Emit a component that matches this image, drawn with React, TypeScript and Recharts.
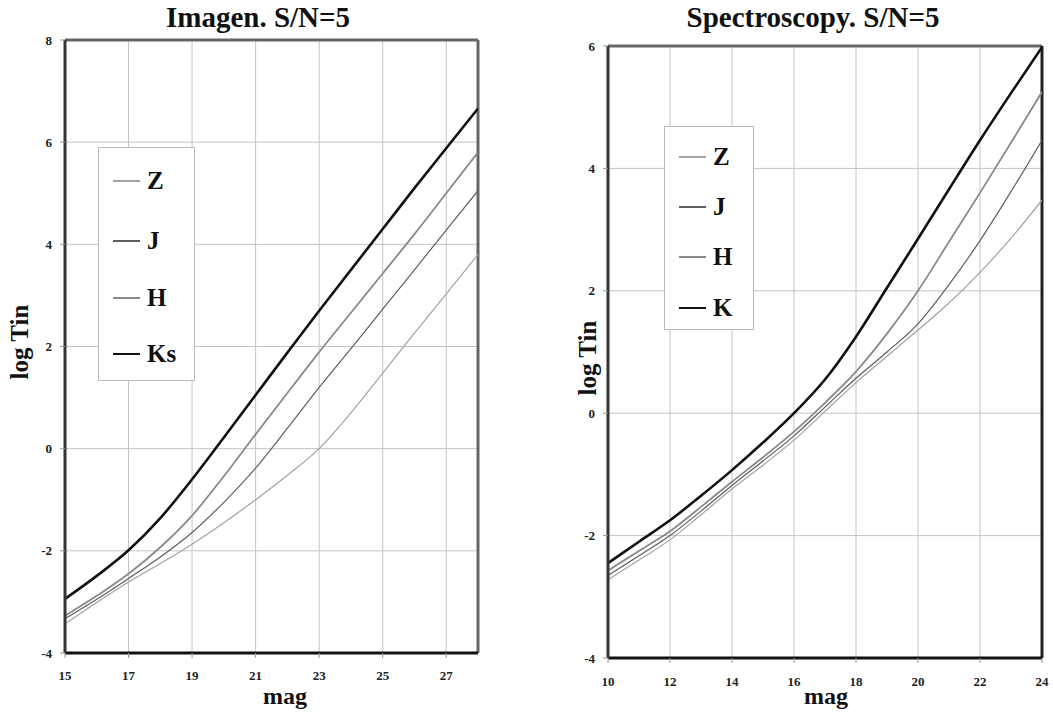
import { LineChart, Line, XAxis, YAxis, CartesianGrid, ReferenceLine } from "recharts";

// Imagen, S/N=5
const magImg = [15, 16, 17, 18, 19, 20, 21, 22, 23, 24, 25, 26, 27, 28];
const zImg = [-3.43, -3.01, -2.61, -2.25, -1.87, -1.45, -1.0, -0.52, 0.0, 0.7, 1.48, 2.26, 3.03, 3.8];
const jImg = [-3.33, -2.95, -2.54, -2.12, -1.64, -1.05, -0.38, 0.4, 1.2, 1.96, 2.73, 3.5, 4.28, 5.05];
const hImg = [-3.27, -2.88, -2.45, -1.93, -1.31, -0.54, 0.28, 1.09, 1.89, 2.66, 3.43, 4.2, 5.0, 5.8];
const ksImg = [-2.94, -2.49, -1.99, -1.36, -0.6, 0.22, 1.05, 1.88, 2.7, 3.5, 4.3, 5.1, 5.88, 6.66];
const ticksXImg = [15, 17, 19, 21, 23, 25, 27];
const ticksYImg = [-4, -2, 0, 2, 4, 6, 8];

// Spectroscopy, S/N=5
const magSpec = [10, 11, 12, 13, 14, 15, 16, 17, 18, 19, 20, 21, 22, 23, 24];
const zSpec = [-2.72, -2.4, -2.07, -1.66, -1.24, -0.85, -0.44, 0.03, 0.5, 0.93, 1.36, 1.8, 2.3, 2.86, 3.48];
const jSpec = [-2.65, -2.33, -2.0, -1.6, -1.18, -0.78, -0.37, 0.1, 0.57, 1.0, 1.46, 2.1, 2.82, 3.62, 4.46];
const hSpec = [-2.57, -2.25, -1.93, -1.53, -1.12, -0.72, -0.3, 0.17, 0.68, 1.3, 2.0, 2.8, 3.6, 4.42, 5.25];
const kSpec = [-2.45, -2.1, -1.75, -1.35, -0.93, -0.48, 0.0, 0.55, 1.25, 2.05, 2.85, 3.66, 4.46, 5.23, 5.98];
const ticksXSpec = [10, 12, 14, 16, 18, 20, 22, 24];
const ticksYSpec = [-4, -2, 0, 2, 4, 6];

const datosImg = magImg.map((m, i) => ({ mag: m, z: zImg[i], j: jImg[i], h: hImg[i], k: ksImg[i] }));
const datosSpec = magSpec.map((m, i) => ({ mag: m, z: zSpec[i], j: jSpec[i], h: hSpec[i], k: kSpec[i] }));

type Serie = { key: string; nombre: string; color: string; ancho: number };
const estilos = {
  z: { color: "#a2a2a2", ancho: 1.2 },
  j: { color: "#5e5e5e", ancho: 1.2 },
  h: { color: "#8a8a8a", ancho: 1.8 },
  k: { color: "#111111", ancho: 2.6 },
};
const seriesImg: Serie[] = [
  { key: "z", nombre: "Z", ...estilos.z },
  { key: "j", nombre: "J", ...estilos.j },
  { key: "h", nombre: "H", ...estilos.h },
  { key: "k", nombre: "Ks", ...estilos.k },
];
const seriesSpec: Serie[] = [
  { key: "z", nombre: "Z", ...estilos.z },
  { key: "j", nombre: "J", ...estilos.j },
  { key: "h", nombre: "H", ...estilos.h },
  { key: "k", nombre: "K", ...estilos.k },
];

const serif = "'Liberation Serif', 'DejaVu Serif', serif";
const tickStyle = { fontFamily: serif, fontWeight: 700, fontSize: 13, fill: "#222" };

function Leyenda({ x, y, w, h, filas, series }: { x: number; y: number; w: number; h: number; filas: number[]; series: Serie[] }) {
  return (
    <div style={{ position: "absolute", left: x, top: y, width: w, height: h, border: "1px solid #bbb", background: "#fff", boxSizing: "border-box" }}>
      {series.map((s, i) => (
        <div key={s.key} style={{ position: "absolute", left: 14, top: filas[i] - 14, height: 28, display: "flex", alignItems: "center" }}>
          <div style={{ width: 27, height: s.ancho, background: s.color }} />
          <span style={{ marginLeft: 7, fontFamily: serif, fontWeight: 700, fontSize: 25, color: "#111", lineHeight: "28px" }}>{s.nombre}</span>
        </div>
      ))}
    </div>
  );
}

function Panel(props: {
  datos: any[]; series: Serie[]; xDom: [number, number]; yDom: [number, number];
  xTicks: number[]; yTicks: number[]; left: number; width: number;
  margin: { top: number; right: number; bottom: number; left: number };
  bordeDerecho: string; tickMarginX: number;
}) {
  const { datos, series, xDom, yDom, xTicks, yTicks, left, width, margin } = props;
  return (
    <div style={{ position: "absolute", left, top: 0 }}>
      <LineChart width={width} height={713} data={datos} margin={margin}>
        <CartesianGrid stroke="#c4c4c4" strokeWidth={1} />
        <XAxis type="number" dataKey="mag" domain={xDom} ticks={xTicks} allowDataOverflow height={30}
          axisLine={{ stroke: "#111", strokeWidth: 3 }} tickLine={{ stroke: "#999" }} tickSize={5}
          tickMargin={props.tickMarginX} tick={tickStyle} />
        <YAxis type="number" domain={yDom} ticks={yTicks} allowDataOverflow width={30}
          axisLine={{ stroke: "#333", strokeWidth: 3 }} tickLine={{ stroke: "#999" }} tickSize={5}
          tickMargin={8} tick={tickStyle} />
        <ReferenceLine y={yDom[1]} stroke="#666" strokeWidth={3} />
        <ReferenceLine x={xDom[1]} stroke={props.bordeDerecho} strokeWidth={3} />
        {series.map((s) => (
          <Line key={s.key} type="monotone" dataKey={s.key} stroke={s.color} strokeWidth={s.ancho}
            dot={false} activeDot={false} isAnimationActive={false} />
        ))}
      </LineChart>
    </div>
  );
}

const titulo = { position: "absolute" as const, fontFamily: serif, fontWeight: 700, fontSize: 29, lineHeight: "32px", textAlign: "center" as const, color: "#111", whiteSpace: "nowrap" as const };
const ejeY = { position: "absolute" as const, width: 120, height: 28, fontFamily: serif, fontWeight: 700, fontSize: 25, lineHeight: "28px", textAlign: "center" as const, color: "#111", transform: "rotate(-90deg)" };
const ejeX = { position: "absolute" as const, width: 100, fontFamily: serif, fontWeight: 700, fontSize: 24, lineHeight: "24px", textAlign: "center" as const, color: "#111" };

export default function App() {
  return (
    <div style={{ position: "absolute", left: 0, top: 0, width: 1053, height: 713, background: "#fff", overflow: "hidden" }}>
      <Panel datos={datosImg} series={seriesImg} xDom={[15, 28]} yDom={[-4, 8]} xTicks={ticksXImg} yTicks={ticksYImg}
        left={0} width={500} margin={{ top: 40, right: 22, bottom: 30, left: 35 }} bordeDerecho="#666" tickMarginX={13} />
      <Panel datos={datosSpec} series={seriesSpec} xDom={[10, 24]} yDom={[-4, 6]} xTicks={ticksXSpec} yTicks={ticksYSpec}
        left={540} width={513} margin={{ top: 46, right: 11, bottom: 25, left: 38 }} bordeDerecho="#222" tickMarginX={14} />

      <div style={{ ...titulo, left: 108, width: 300, top: 1 }}>Imagen. S/N=5</div>
      <div style={{ ...titulo, left: 663, width: 300, top: 1 }}>Spectroscopy. S/N=5</div>

      <div style={{ ...ejeY, left: 20 - 60, top: 342 - 14 }}>log Tin</div>
      <div style={{ ...ejeY, left: 588 - 60, top: 358 - 14 }}>log Tin</div>
      <div style={{ ...ejeX, left: 235, top: 684 }}>mag</div>
      <div style={{ ...ejeX, left: 776, top: 684 }}>mag</div>

      <Leyenda x={98} y={147} w={97} h={234} filas={[33, 93, 150, 206]} series={seriesImg} />
      <Leyenda x={664} y={126} w={90} h={204} filas={[30, 80, 130, 181]} series={seriesSpec} />
    </div>
  );
}
